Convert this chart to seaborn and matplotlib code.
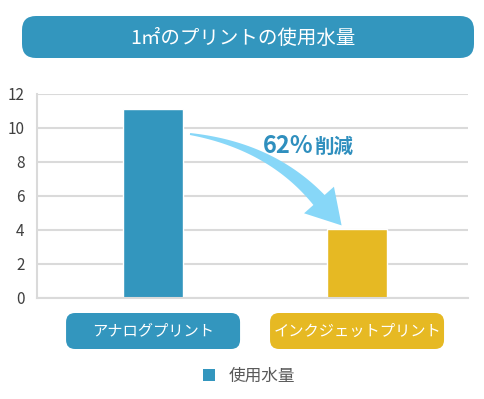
import numpy as np
import pandas as pd
import matplotlib
matplotlib.use('Agg')
import matplotlib.pyplot as plt
import seaborn as sns
from matplotlib.patches import FancyBboxPatch, Polygon, Patch
from matplotlib.transforms import IdentityTransform

# ---- data ----
categories = ['アナログプリント', 'インクジェットプリント']
water_use = [11.1, 4.05]
series_name = '使用水量'
title = '1㎡のプリントの使用水量'
reduction_pct = '62%'
reduction_word = '削減'
y_ticks = [0, 2, 4, 6, 8, 10, 12]

BLUE = '#3396BE'
YELLOW = '#E6B923'
ARROW = '#87D7F8'
GRID = '#DADADA'
TEXT = '#404040'

sns.set_theme(style='white')
plt.rcParams['font.family'] = ['Noto Sans CJK JP', 'DejaVu Sans']

W, H = 484, 399
fig = plt.figure(figsize=(W / 100, H / 100), dpi=100)
ax = fig.add_axes([37 / W, 1 - 298 / H, (468 - 37) / W, (298 - 94) / H])

df = pd.DataFrame({'cat': categories, 'val': water_use})
sns.barplot(data=df, x='cat', y='val', hue='cat', palette=[BLUE, YELLOW],
            width=0.294, legend=False, ax=ax, saturation=1)

ax.set_xlim(-0.569, 1.544)
ax.set_ylim(0, 12)
ax.set_yticks(y_ticks)
ax.set_yticklabels([str(t) for t in y_ticks], fontsize=11, color=TEXT)
ax.tick_params(axis='y', length=0, pad=9)
ax.set_xticks([])
ax.set_xlabel('')
ax.set_ylabel('')
ax.yaxis.grid(True, color=GRID, lw=1.5)
ax.set_axisbelow(True)
for s in ['top', 'right']:
    ax.spines[s].set_visible(False)
for s in ['left', 'bottom']:
    ax.spines[s].set_color(GRID)
    ax.spines[s].set_linewidth(1.5)

ident = IdentityTransform()

def py(y):
    return H - y

# title box
fig.add_artist(FancyBboxPatch((22, py(58)), 452, 42,
                              boxstyle='round,pad=0,rounding_size=14',
                              transform=ident, fc=BLUE, ec='none'))
fig.text(243, py(38), title, transform=ident, ha='center', va='center',
         fontsize=14, color='white')

# category label boxes
box_colors = [BLUE, YELLOW]
for i, cat in enumerate(categories):
    cx = ax.transData.transform((i, 0))[0]
    fig.add_artist(FancyBboxPatch((cx - 87, py(349)), 174, 36,
                                  boxstyle='round,pad=0,rounding_size=9',
                                  transform=ident, fc=box_colors[i], ec='none'))
    fig.text(cx, py(331), cat, transform=ident, ha='center', va='center',
             fontsize=11, color='white')

# curved tapered arrow (decoration)
P0 = np.array([190.0, 134.0])
P1 = np.array([271.0, 146.0])
P2 = np.array([319.0, 200.0])
t = np.linspace(0, 1, 60)[:, None]
pts = (1 - t) ** 2 * P0 + 2 * (1 - t) * t * P1 + t ** 2 * P2
der = 2 * (1 - t) * (P1 - P0) + 2 * t * (P2 - P1)
der = der / np.linalg.norm(der, axis=1, keepdims=True)
nrm = np.column_stack([-der[:, 1], der[:, 0]])
half = (1.0 + 6.5 * t)
upper = pts + nrm * half
lower = pts - nrm * half
d_end = der[-1]
n_end = nrm[-1]
tip = P2 + d_end * 34
wing1 = P2 + n_end * 20
wing2 = P2 - n_end * 20
poly = np.vstack([upper, wing1, tip, wing2, lower[::-1]])
poly[:, 1] = H - poly[:, 1]
fig.add_artist(Polygon(poly, closed=True, transform=ident, fc=ARROW, ec='none'))

fig.text(313, py(153), reduction_pct, transform=ident, ha='right', va='baseline',
         fontsize=17, fontweight='bold', color='#2F8FBE')
fig.text(314, py(153), reduction_word, transform=ident, ha='left', va='baseline',
         fontsize=14, fontweight='bold', color='#2F8FBE')

# legend
fig.legend(handles=[Patch(fc=BLUE, ec='none', label=series_name)],
           loc='center', bbox_to_anchor=(249 / W, 1 - 376 / H), frameon=False,
           fontsize=12, handlelength=0.75, handleheight=0.75,
           handletextpad=0.8, labelcolor='#595959')

fig.savefig('out.png', dpi=100)
